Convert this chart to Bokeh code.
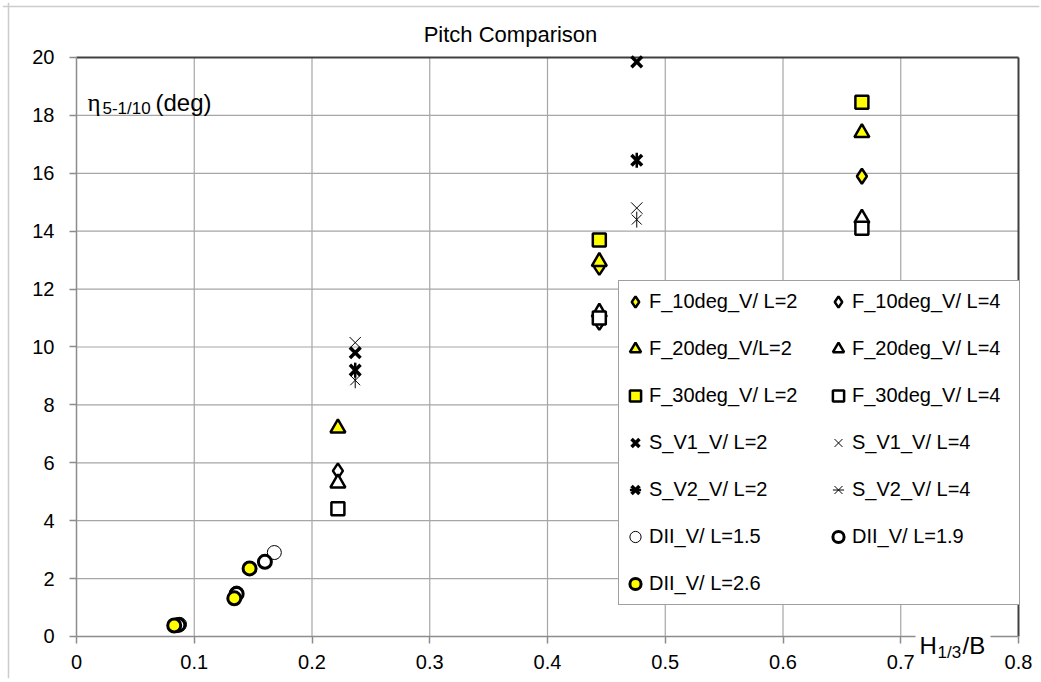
import numpy as np
from bokeh.plotting import figure
from bokeh.models import Range1d, Label, Legend, LegendItem, FixedTicker, BoxAnnotation, Span
from bokeh.embed import file_html
from bokeh.resources import INLINE

# ---- data ----
f10_l2_x = [0.444, 0.667]
f10_l2_y = [12.75, 15.9]
f10_l4_x = [0.222, 0.444, 0.667]
f10_l4_y = [5.72, 10.85, 14.3]
f20_l2_x = [0.222, 0.444, 0.667]
f20_l2_y = [7.2, 12.95, 17.4]
f20_l4_x = [0.222, 0.444, 0.667]
f20_l4_y = [5.3, 11.2, 14.45]
f30_l2_x = [0.444, 0.667]
f30_l2_y = [13.7, 18.45]
f30_l4_x = [0.222, 0.444, 0.667]
f30_l4_y = [4.41, 11.0, 14.1]
s1_l2_x = [0.2367, 0.4758]
s1_l2_y = [9.8, 19.85]
s1_l4_x = [0.2367, 0.4758]
s1_l4_y = [10.15, 14.8]
s2_l2_x = [0.2367, 0.4758]
s2_l2_y = [9.2, 16.45]
s2_l4_x = [0.2367, 0.4758]
s2_l4_y = [8.85, 14.4]
d15_x = [0.0875, 0.136, 0.168]
d15_y = [0.42, 1.5, 2.9]
d19_x = [0.0865, 0.136, 0.160]
d19_y = [0.40, 1.47, 2.58]
d26_x = [0.083, 0.134, 0.147]
d26_y = [0.38, 1.32, 2.35]

x_ticks = [0, 0.1, 0.2, 0.3, 0.4, 0.5, 0.6, 0.7, 0.8]
x_tick_labels = ["0", "0.1", "0.2", "0.3", "0.4", "0.5", "0.6", "0.7", "0.8"]
y_ticks = [0, 2, 4, 6, 8, 10, 12, 14, 16, 18, 20]

labels = ["F_10deg_V/ L=2", "F_10deg_V/ L=4", "F_20deg_V/L=2", "F_20deg_V/ L=4",
          "F_30deg_V/ L=2", "F_30deg_V/ L=4", "S_V1_V/ L=2", "S_V1_V/ L=4",
          "S_V2_V/ L=2", "S_V2_V/ L=4", "DII_V/ L=1.5", "DII_V/ L=1.9", "DII_V/ L=2.6"]

YEL = "#FFFF00"
FONT = "Liberation Sans"
GRID = "#a6a6a6"
AXIS = "#8c8c8c"
BORDER = "#404040"

x0, x1 = x_ticks[0], x_ticks[-1]
y0, y1 = y_ticks[0], y_ticks[-1]

# The frame covers the whole figure; axes are fixed at x=0 / y=0 so every text stays inside it.
p = figure(width=1041, height=680, output_backend="svg", toolbar_location=None,
           x_range=Range1d(-0.062845, 0.817834), y_range=Range1d(-1.4508, 21.8998),
           min_border_left=2, min_border_right=2, min_border_top=2, min_border_bottom=2)
p.background_fill_color = "white"
p.border_fill_color = "white"
p.outline_line_color = None

for ax in (p.xaxis[0], p.yaxis[0]):
    ax.axis_line_color = AXIS
    ax.axis_line_width = 1.5
    ax.major_tick_line_color = AXIS
    ax.major_tick_line_width = 1.5
    ax.major_tick_out = 7
    ax.major_tick_in = 0
    ax.minor_tick_line_color = None
    ax.major_label_text_font = FONT
    ax.major_label_text_font_size = "20px"
    ax.major_label_text_color = "black"
p.xaxis.ticker = FixedTicker(ticks=x_ticks)
p.xaxis.major_label_overrides = {t: s for t, s in zip(x_ticks, x_tick_labels)}
p.xaxis.major_label_standoff = 12
p.xaxis.fixed_location = y0
p.xaxis.bounds = (x0, x1)
p.yaxis.ticker = FixedTicker(ticks=y_ticks)
p.yaxis.major_label_standoff = 15
p.yaxis.fixed_location = x0
p.yaxis.bounds = (y0, y1)

# grid lines limited to the plot area
p.xgrid.visible = False
p.ygrid.visible = False
nx = len(x_ticks) - 2
ny = len(y_ticks) - 2
p.segment(x0=x_ticks[1:-1], y0=[y0] * nx, x1=x_ticks[1:-1], y1=[y1] * nx, line_color=GRID, line_width=1.2)
p.segment(x0=[x0] * ny, y0=y_ticks[1:-1], x1=[x1] * ny, y1=y_ticks[1:-1], line_color=GRID, line_width=1.2)
# plot-area border on top and right
p.segment(x0=[x0, x1], y0=[y1, y0], x1=[x1, x1], y1=[y1, y1], line_color=BORDER, line_width=2)

# outer chart-area border (top and left edges visible in the reference)
p.add_layout(Span(location=672, location_units="screen", dimension="width",
                  line_color="#cccccc", line_width=1.5, level="underlay"))
p.add_layout(Span(location=6, location_units="screen", dimension="height",
                  line_color="#cccccc", line_width=1.5, level="underlay"))

r = {}
r[0] = [p.scatter(f10_l2_x, f10_l2_y, marker="diamond", size=15, fill_color=YEL, line_color="black", line_width=2.5)]
r[1] = [p.scatter(f10_l4_x, f10_l4_y, marker="diamond", size=15, fill_color="white", line_color="black", line_width=2.5)]
r[2] = [p.scatter(f20_l2_x, f20_l2_y, marker="triangle", size=15, fill_color=YEL, line_color="black", line_width=2.5)]
r[3] = [p.scatter(f20_l4_x, f20_l4_y, marker="triangle", size=15, fill_color="white", line_color="black", line_width=2.5)]
r[4] = [p.scatter(f30_l2_x, f30_l2_y, marker="square", size=13, fill_color=YEL, line_color="black", line_width=2.5)]
r[5] = [p.scatter(f30_l4_x, f30_l4_y, marker="square", size=13, fill_color="white", line_color="black", line_width=2.5)]
r[6] = [p.scatter(s1_l2_x, s1_l2_y, marker="x", size=15, line_color="black", line_width=3.5)]
r[7] = [p.scatter(s1_l4_x, s1_l4_y, marker="x", size=16, line_color="black", line_width=1)]
r[8] = [p.scatter(s2_l2_x, s2_l2_y, marker="x", size=15, line_color="black", line_width=3.5),
        p.scatter(s2_l2_x, s2_l2_y, marker="dash", angle=np.pi / 2, size=15, line_color="black", line_width=2.5)]
r[9] = [p.scatter(s2_l4_x, s2_l4_y, marker="x", size=14, line_color="black", line_width=1),
        p.scatter(s2_l4_x, s2_l4_y, marker="dash", angle=np.pi / 2, size=16, line_color="black", line_width=1)]
r[10] = [p.scatter(d15_x, d15_y, marker="circle", size=14, fill_color="white", line_color="black", line_width=1)]
r[11] = [p.scatter(d19_x, d19_y, marker="circle", size=13, fill_color="white", line_color="black", line_width=3)]
r[12] = [p.scatter(d26_x, d26_y, marker="circle", size=13, fill_color=YEL, line_color="black", line_width=3)]

items = [LegendItem(label=labels[i], renderers=r[i]) for i in range(13)]
legend = Legend(items=items, location=(616, 73), orientation="horizontal", ncols=2,
                label_text_font=FONT, label_text_font_size="20px", label_text_color="black",
                glyph_width=28, glyph_height=37, label_height=37, label_width=165,
                label_standoff=0, spacing=10, padding=2, margin=0,
                border_line_color=BORDER, border_line_width=1.5,
                background_fill_color="white", background_fill_alpha=1.0)
p.add_layout(legend, "center")

# title
p.add_layout(Label(x=508, y=644, x_units="screen", y_units="screen", text="Pitch Comparison",
                   text_font=FONT, text_font_size="22px", text_align="center",
                   text_baseline="middle", text_color="black"))
# y axis title (inside plot)
p.add_layout(Label(x=85, y=576, x_units="screen", y_units="screen", text="η",
                   text_font="Liberation Serif", text_font_size="25px", text_baseline="alphabetic",
                   text_color="black"))
p.add_layout(Label(x=100, y=570, x_units="screen", y_units="screen", text="5-1/10",
                   text_font=FONT, text_font_size="17px", text_baseline="alphabetic", text_color="black"))
p.add_layout(Label(x=153, y=576, x_units="screen", y_units="screen", text="(deg)",
                   text_font=FONT, text_font_size="24px", text_baseline="alphabetic", text_color="black"))
# x axis title with white background
p.add_layout(BoxAnnotation(left=913, right=988, bottom=21, top=53,
                           left_units="screen", right_units="screen",
                           bottom_units="screen", top_units="screen",
                           fill_color="white", fill_alpha=1.0, line_color=None))
p.add_layout(Label(x=917, y=33, x_units="screen", y_units="screen", text="H",
                   text_font=FONT, text_font_size="24px", text_baseline="alphabetic", text_color="black"))
p.add_layout(Label(x=935, y=26, x_units="screen", y_units="screen", text="1/3",
                   text_font=FONT, text_font_size="17px", text_baseline="alphabetic", text_color="black"))
p.add_layout(Label(x=960, y=33, x_units="screen", y_units="screen", text="/B",
                   text_font=FONT, text_font_size="24px", text_baseline="alphabetic", text_color="black"))

open("out.html", "w").write(file_html(p, INLINE))
